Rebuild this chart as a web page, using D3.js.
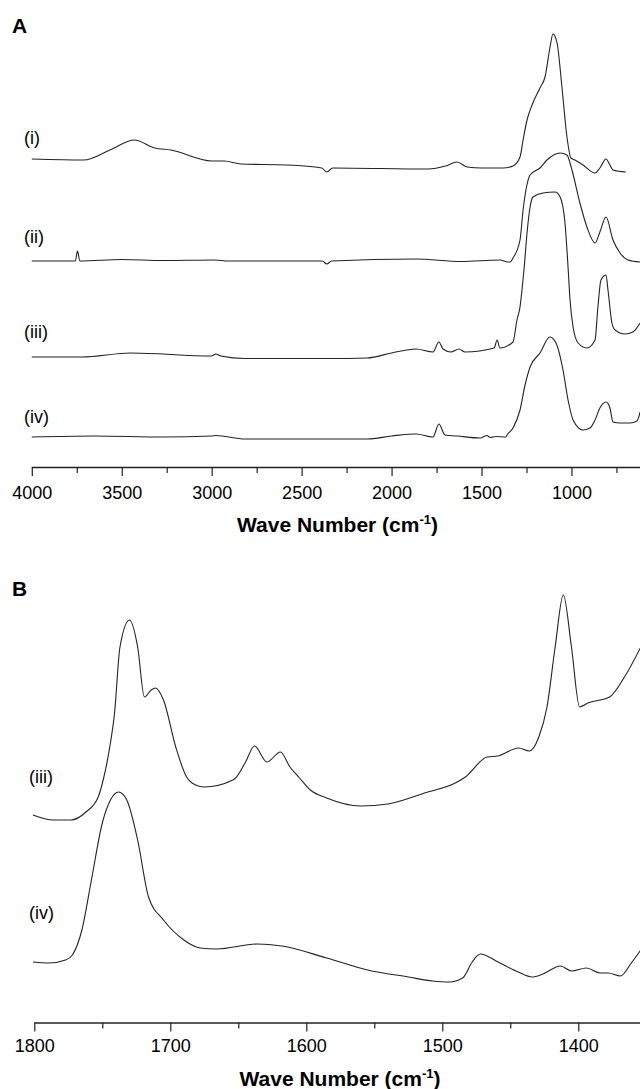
<!DOCTYPE html>
<html>
<head>
<meta charset="utf-8">
<script src="https://cdn.jsdelivr.net/npm/d3@7"></script>
<style>
body { margin: 0; background: #fff; }
text { font-family: Arial, "Liberation Sans", sans-serif; fill: #000; }
</style>
</head>
<body>
<svg id="chart"></svg>
<script>
// panel A spectra: [wave number, intensity (a.u., stacked)]
var specA_i = [[4000,309],[3711,308],[3565,318],[3430,328],[3316,320],[3227,318],[3000,307],[2930,307],[2838,304],[2588,303],[2388,300],[2360,296],[2327,300],[1796,299],[1700,302],[1636,306],[1580,301],[1498,300],[1380,300],[1325,302],[1286,311],[1269,328],[1247,348],[1219,363],[1175,380],[1147,391],[1119,421],[1103,434],[1080,425],[1053,381],[1025,331],[1003,310],[981,308],[936,303],[869,295],[842,300],[808,309],[786,303],[769,298],[698,296]];
var specA_ii = [[4000,207],[3758,207],[3746,217],[3733,207],[3498,208.5],[3270,207.5],[2987,208],[2906,207],[2386,207],[2360,204],[2333,207],[1864,209],[1614,206.5],[1398,208],[1353,206],[1341,206],[1325,210],[1286,228],[1269,258],[1253,278],[1230,293],[1175,300],[1136,308],[1063,315],[1025,313],[1008,305],[997,298],[953,265],[914,241],[869,225],[842,236],[808,251],[769,228],[730,215],[685,208],[618,206]];
var specA_iii = [[4000,111],[3721,111],[3450,115],[3000,112],[2978,114],[2950,112],[2815,109.5],[2360,109.5],[2135,110],[2000,115],[1864,119],[1770,116],[1737,126],[1714,119],[1670,116],[1625,119],[1592,116],[1430,120],[1413,128],[1398,120],[1325,126],[1303,148],[1286,161],[1275,178],[1264,198],[1247,235],[1230,261],[1214,271],[1158,275],[1091,276],[1063,271],[1036,245],[1019,201],[1008,168],[991,141],[963,125],[914,120],[869,128],[853,161],[836,188],[808,193],[797,178],[775,145],[758,138],[703,134],[659,136],[618,145]];
var specA_iv = [[4000,31],[3654,32],[3270,31],[3000,32],[2978,32.5],[2815,29],[2135,29],[2000,32],[1864,34],[1770,31],[1737,44],[1703,33],[1636,32],[1508,30],[1470,32.5],[1452,30.5],[1420,31.5],[1364,31],[1358,33],[1325,40],[1286,58],[1258,83],[1230,101],[1175,115],[1120,131],[1086,125],[1047,98],[1019,68],[991,48],[936,38],[897,40],[869,48],[842,60],[808,66],[786,60],[769,46],[731,45],[675,45],[636,47],[618,56]];

// panel B spectra
var specB_iii = [[1801,208],[1786,203],[1773,203],[1762,211],[1753,226],[1749,245],[1745,272],[1741,310],[1737,376],[1730,403],[1724,376],[1719,326],[1714,333],[1711,335],[1705,323],[1696,276],[1688,246],[1684,240],[1675,236],[1654,243],[1652,245],[1645,260],[1638,277],[1629,261],[1619,271],[1612,256],[1605,245],[1597,233],[1585,225],[1560,217],[1540,219],[1513,230],[1489,241],[1483,246],[1467,266],[1459,267],[1444,275],[1436,272],[1429,286],[1423,316],[1417,376],[1411,428],[1405,376],[1399,316],[1393,320],[1377,326],[1366,346],[1354,376]];
var specB_iv = [[1801,61],[1789,60],[1777,63],[1772,68],[1765,93],[1758,143],[1750,200],[1744,223],[1738,231],[1732,223],[1724,183],[1716,126],[1705,103],[1690,83],[1678,75],[1666,74],[1636,79],[1618,77],[1585,65],[1555,53],[1525,46],[1507,42],[1495,41],[1485,45],[1478,61],[1472,69],[1459,61],[1444,51],[1434,46],[1426,49],[1413,57],[1405,52],[1394,55],[1384,50],[1378,50],[1369,47],[1361,60],[1354,73]];

var labelsA = ["(i)", "(ii)", "(iii)", "(iv)"];
var labelsB = ["(iii)", "(iv)"];
var ticksA = [4000, 3500, 3000, 2500, 2000, 1500, 1000];
var minorA = [3750, 3250, 2750, 2250, 1750, 1250, 750];
var ticksB = [1800, 1700, 1600, 1500, 1400];
var minorB = [1750, 1650, 1550, 1450];

var width = 640, height = 1089;
var svg = d3.select("#chart").attr("width", width).attr("height", height);

var line = function(x, y) {
  return d3.line()
    .x(function(d) { return x(d[0]); })
    .y(function(d) { return y(d[1]); })
    .curve(d3.curveMonotoneX);
};

function drawAxis(x, yPos, majors, minors, pad) {
  var g = svg.append("g").attr("transform", "translate(0," + yPos + ")");
  g.append("g")
    .call(d3.axisBottom(x).tickValues(minors).tickSize(6).tickSizeOuter(0).tickFormat(""))
    .call(function(a) { a.select(".domain").remove(); });
  g.append("g")
    .call(d3.axisBottom(x).tickValues(majors).tickSize(9).tickSizeOuter(0).tickPadding(pad).tickFormat(d3.format("d")))
    .call(function(a) { a.select(".domain").attr("d", "M" + x.range()[0] + ",0.5H" + width); });
  g.selectAll("line").attr("stroke", "#222").attr("stroke-width", 1.2);
  g.selectAll(".domain").attr("stroke", "#222").attr("stroke-width", 1.3);
  g.selectAll("text").style("font-size", "18px").attr("fill", "#000");
}

function axisTitle(cx, baseline) {
  var t = svg.append("text")
    .attr("x", cx).attr("y", baseline)
    .attr("text-anchor", "middle")
    .style("font-size", "21px").style("font-weight", "bold");
  t.append("tspan").text("Wave Number (cm");
  t.append("tspan").attr("dy", -8).style("font-size", "13px").text("-1");
  t.append("tspan").attr("dy", 8).text(")");
}

// ---- panel A ----
var xA = d3.scaleLinear().domain([4000, 619]).range([31.8, 640]);
var yA = d3.scaleLinear().domain([0, 450]).range([468, 18]);

svg.append("text").attr("x", 12).attr("y", 33)
  .style("font-size", "21px").style("font-weight", "bold").text("A");

[specA_i, specA_ii, specA_iii, specA_iv].forEach(function(s) {
  svg.append("path").datum(s)
    .attr("fill", "none").attr("stroke", "#222").attr("stroke-width", 1.1)
    .attr("d", line(xA, yA));
});

var labelYA = [143.5, 243, 338, 423];
labelsA.forEach(function(l, i) {
  svg.append("text").attr("x", 24).attr("y", labelYA[i]).style("font-size", "18px").text(l);
});

drawAxis(xA, 467, ticksA, minorA, 10);
axisTitle(337.5, 532);

// ---- panel B ----
var xB = d3.scaleLinear().domain([1800, 1354.6]).range([34.3, 640]);
var yB = d3.scaleLinear().domain([0, 430]).range([1023, 593]);

svg.append("text").attr("x", 12).attr("y", 596)
  .style("font-size", "21px").style("font-weight", "bold").text("B");

[specB_iii, specB_iv].forEach(function(s) {
  svg.append("path").datum(s)
    .attr("fill", "none").attr("stroke", "#222").attr("stroke-width", 1.1)
    .attr("d", line(xB, yB));
});

var labelYB = [783, 919];
labelsB.forEach(function(l, i) {
  svg.append("text").attr("x", 29).attr("y", labelYB[i]).style("font-size", "18px").text(l);
});

drawAxis(xB, 1022.5, ticksB, minorB, 8);
axisTitle(340, 1086);
</script>
</body>
</html>
